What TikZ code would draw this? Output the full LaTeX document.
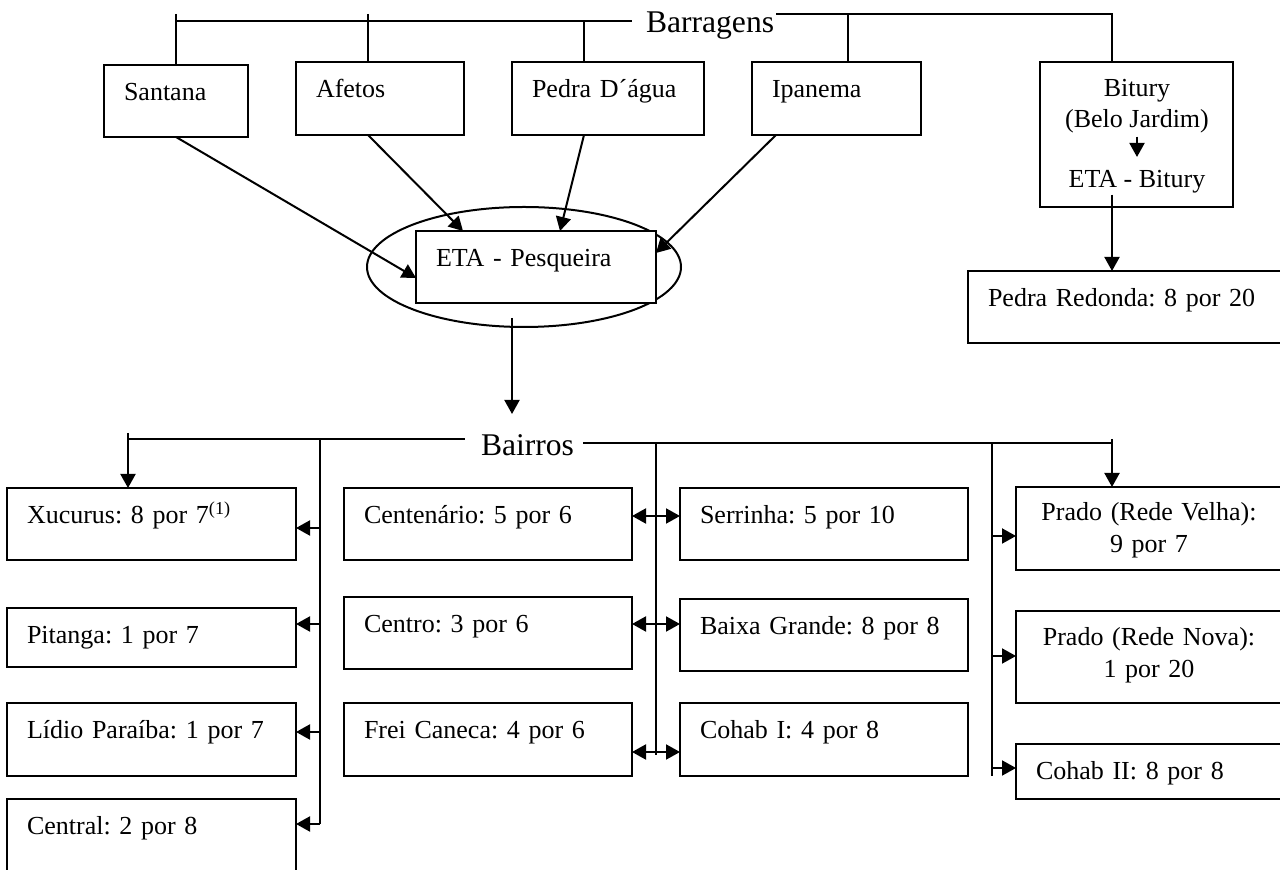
\documentclass[tikz,border=0pt]{standalone}
\usepackage{fontspec}
\setmainfont{Liberation Serif}
\usetikzlibrary{
    arrows.meta,
    shapes.geometric
}

\newcommand{\boxfont}{\fontsize{13pt}{15.7pt}\selectfont\frenchspacing}
\newcommand{\busfont}{\fontsize{15.8pt}{19pt}\selectfont}

\begin{document}
\begin{tikzpicture}[x=0.5pt, y=-0.5pt, line width=1pt,
    >={Triangle[length=7pt,width=7.5pt]},
    bx/.style={draw, fill=white, anchor=north west, outer sep=0pt,
        inner xsep=10pt, inner ysep=0pt, align=left,
        text height=17.75pt, font=\boxfont},
    frame/.style={draw, anchor=north west, outer sep=0pt, inner sep=0pt},
    txt/.style={inner sep=0pt, font=\boxfont},
    bus/.style={inner sep=0pt, font=\busfont}]

\useasboundingbox (0,0) rectangle (1280,870);

% Dams
\node[bx, text width=52pt, text depth=18.25pt] (santana) at (104,65) {Santana};
\node[bx, text width=64pt, text depth=18.75pt] (afetos) at (296,62) {Afetos};
\node[bx, text width=76pt, text depth=18.75pt] (pedra) at (512,62) {Pedra D´água};
\node[bx, text width=64.5pt, text depth=18.75pt] (ipanema) at (752,62) {Ipanema};

% Bitury and its own plant
\node[frame, minimum width=96.5pt, minimum height=72.5pt] (bitury) at (1040,62) {};
\node[txt, anchor=base] (bitname) at (1137,97) {Bitury};
\node[txt, anchor=base] (belo) at (1137,128) {(Belo Jardim)};
\node[txt, anchor=base] (etabit) at (1137,188) {ETA - Bitury};
\node[bx, text width=137pt, text depth=18.25pt] (predonda) at (968,271) {Pedra Redonda: 8 por 20};

% Treatment plant
\node[draw, ellipse, minimum width=157pt, minimum height=60pt, inner sep=0pt] (etaring) at (524,267) {};
\node[bx, text width=100pt, text depth=18.25pt] (eta) at (416,231) {ETA - Pesqueira};

% Bus labels
\node[bus, anchor=base west] (barr) at (645,33) {Barragens};
\node[bus, anchor=base west] (bairros) at (480,456) {Bairros};

% Districts, left column
\node[bx, text width=124.5pt, text depth=18.25pt] (xucurus) at (7,488) {Xucurus: 8 por 7\textsuperscript{(1)}};
\node[bx, text width=124.5pt, text depth=11.75pt] (pitanga) at (7,608) {Pitanga: 1 por 7};
\node[bx, text width=124.5pt, text depth=18.75pt] (lidio) at (7,703) {Lídio Paraíba: 1 por 7};
\node[bx, text width=124.5pt, text depth=22.25pt] (central) at (7,799) {Central: 2 por 8};

% Districts, middle columns
\node[bx, text width=124pt, text depth=18.25pt] (centen) at (344,488) {Centenário: 5 por 6};
\node[bx, text width=124pt, text depth=18.25pt] (centro) at (344,597) {Centro: 3 por 6};
\node[bx, text width=124pt, text depth=18.75pt] (frei) at (344,703) {Frei Caneca: 4 por 6};
\node[bx, text width=124pt, text depth=18.25pt] (serr) at (680,488) {Serrinha: 5 por 10};
\node[bx, text width=124pt, text depth=18.25pt] (baixa) at (680,599) {Baixa Grande: 8 por 8};
\node[bx, text width=124pt, text depth=18.75pt] (cohab1) at (680,703) {Cohab I: 4 por 8};

% Districts, right column
\node[bx, inner xsep=0pt, align=center, text width=133pt, text height=17pt, text depth=24.5pt] (pradov) at (1016,487) {Prado (Rede Velha):\\9 por 7};
\node[bx, inner xsep=0pt, align=center, text width=133pt, text height=17.5pt, text depth=28.5pt] (pradon) at (1016,611) {Prado (Rede Nova):\\1 por 20};
\node[bx, text width=113pt, text depth=9.75pt] (cohab2) at (1016,744) {Cohab II: 8 por 8};

% Barragens bus
\draw (176,21) -- (632,21);
\draw (776,14) -- (1112,14) -- (bitury.north -| 1112,0);
\draw (176,14) -- (santana.north);
\draw (368,14) -- (afetos.north -| 368,0);
\draw (584,21) -- (pedra.north -| 584,0);
\draw (848,14) -- (ipanema.north -| 848,0);

% Flows into the plants
\draw[->] (santana.south) -- (eta.west |- 0,278);
\draw[->] (afetos.south -| 368,0) -- (eta.north -| 463,0);
\draw[->] (pedra.south -| 584,0) -- (eta.north -| 560,0);
\draw[->] (ipanema.south -| 776,0) -- (eta.east |- 0,253);
\draw[->, shorten <=1pt, shorten >=6.4pt] (belo) -- (etabit);
\draw[->] (etabit.south -| 1112,0) -- (predonda.north -| 1112,0);
\draw[->] (512,318) -- (512,414);

% Bairros bus, left part
\draw (128,439) -- (465,439);
\draw[->] (128,433) -- (xucurus.north -| 128,0);
\draw (320,439) -- (320,824);
\draw[->] (320,528) -- (xucurus.east |- 0,528);
\draw[->] (320,624) -- (pitanga.east |- 0,624);
\draw[->] (320,732) -- (lidio.east |- 0,732);
\draw[->] (320,824) -- (central.east |- 0,824);

% Bairros bus, right part
\draw (583,443) -- (1112,443);
\draw[->] (1112,439) -- (pradov.north -| 1112,0);
\draw (656,443) -- (656,755);
\draw[<->] (centen.east |- 0,516) -- (serr.west |- 0,516);
\draw[<->] (centro.east |- 0,624) -- (baixa.west |- 0,624);
\draw[<->] (frei.east |- 0,752) -- (cohab1.west |- 0,752);
\draw (992,443) -- (992,776);
\draw[->] (992,536) -- (pradov.west |- 0,536);
\draw[->] (992,656) -- (pradon.west |- 0,656);
\draw[->] (992,768) -- (cohab2.west |- 0,768);

\end{tikzpicture}
\end{document}
